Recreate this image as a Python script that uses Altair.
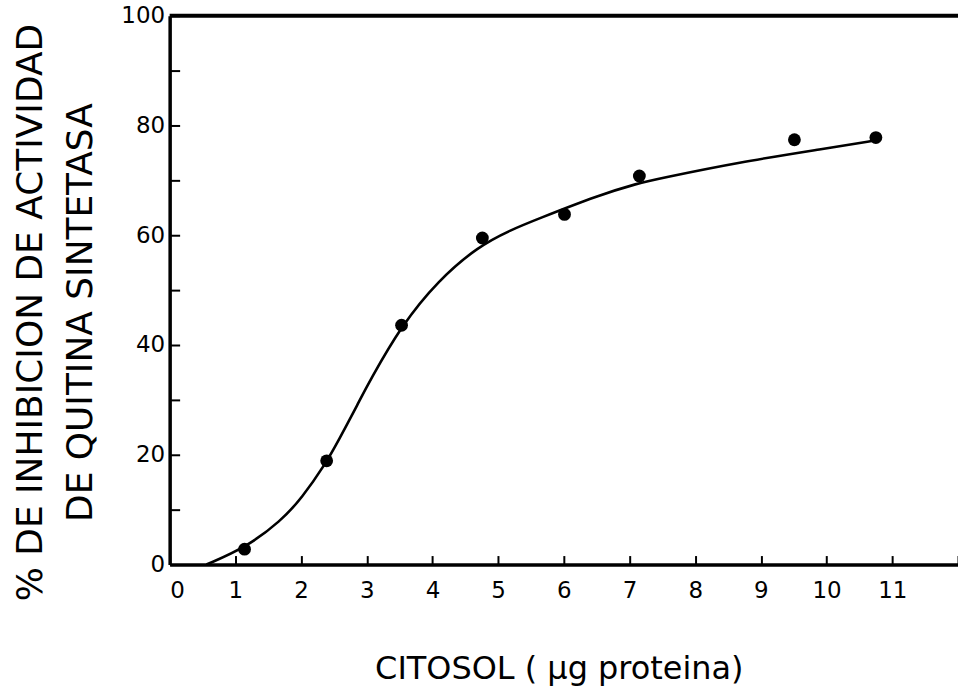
import altair as alt
import pandas as pd

# Measured inhibition of chitin synthetase activity vs. cytosol protein
dose = [1.14, 2.39, 3.53, 4.76, 6.01, 7.15, 9.51, 10.75]
inhibition = [2.8, 18.9, 43.6, 59.5, 63.8, 70.8, 77.4, 77.8]

# Hand-drawn fitted curve, sampled along its path
curve_x = [0.56, 1.16, 1.70, 2.01, 2.37, 2.57, 2.88, 3.03, 3.53, 4.09, 4.70,
           5.20, 5.57, 6.53, 7.14, 7.44, 8.66, 9.98, 10.75]
curve_y = [0.0, 3.1, 8.0, 12.1, 18.3, 22.6, 29.6, 33.1, 43.6, 51.8, 58.0,
           61.0, 62.8, 67.3, 69.5, 70.3, 73.3, 75.8, 77.3]

x_ticks = list(range(0, 13))
x_labels = list(range(0, 12))
y_minor = list(range(0, 101, 10))
y_labels = list(range(0, 101, 20))
X_MAX = 12
Y_MAX = 100

W, H = 790, 550
FONT = "DejaVu Sans"

pts = pd.DataFrame({"dose": dose, "inh": inhibition})
crv = pd.DataFrame({"dose": curve_x, "inh": curve_y})
top = pd.DataFrame({"v": [Y_MAX]})

xs = alt.Scale(domain=[0, X_MAX], nice=False, zero=False)
ys = alt.Scale(domain=[0, Y_MAX], nice=False)

points = alt.Chart(pts).mark_point(
    filled=True, color="black", size=165, opacity=1
).encode(
    x=alt.X("dose:Q", scale=xs, axis=alt.Axis(
        orient="bottom", values=x_labels, ticks=False, grid=False,
        domainColor="black", domainWidth=3.5,
        labelFont=FONT, labelFontSize=23, labelColor="black", labelPadding=15,
        title="CITOSOL ( µg proteina)", titleFont=FONT, titleFontSize=32,
        titleFontWeight="normal", titleColor="black",
        titleBaseline="alphabetic", titleY=114, titleX=390,
    )),
    y=alt.Y("inh:Q", scale=ys, axis=alt.Axis(
        orient="left", values=y_labels, ticks=False, grid=False,
        domainColor="black", domainWidth=3.5,
        labelFont=FONT, labelFontSize=23, labelColor="black", labelPadding=5,
        title=["% DE INHIBICION DE ACTIVIDAD", "DE QUITINA SINTETASA"],
        titleFont=FONT, titleFontSize=36, titleFontWeight="normal",
        titleColor="black", titleAngle=270, titleAlign="center",
        titleBaseline="top", titleLineHeight=50, titleX=-156, titleY=297,
    )),
)

curve = alt.Chart(crv).mark_line(
    color="black", strokeWidth=2.6, interpolate="basis"
).encode(
    x=alt.X("dose:Q", scale=xs, axis=alt.Axis(
        orient="top", offset=-H, values=x_ticks, labels=False, domain=False,
        grid=False, ticks=True, tickSize=9, tickWidth=2, tickColor="black",
        title=None,
    )),
    y=alt.Y("inh:Q", scale=ys, axis=alt.Axis(
        orient="right", offset=-W, values=y_minor, labels=False, domain=False,
        grid=False, ticks=True, tickSize=10, tickWidth=2, tickColor="black",
        title=None,
    )),
)

border = alt.Chart(top).mark_rule(color="black", strokeWidth=4).encode(
    y=alt.Y("v:Q", scale=ys, axis=None)
)

chart = alt.layer(curve, points, border).resolve_axis(
    x="independent", y="independent"
).properties(
    width=W, height=H,
    padding={"left": 170, "top": 15, "right": 0, "bottom": 131},
    autosize="none",
    background="white",
).configure_view(stroke=None)

chart.save("out.html", embed_options={"renderer": "svg", "actions": False})
